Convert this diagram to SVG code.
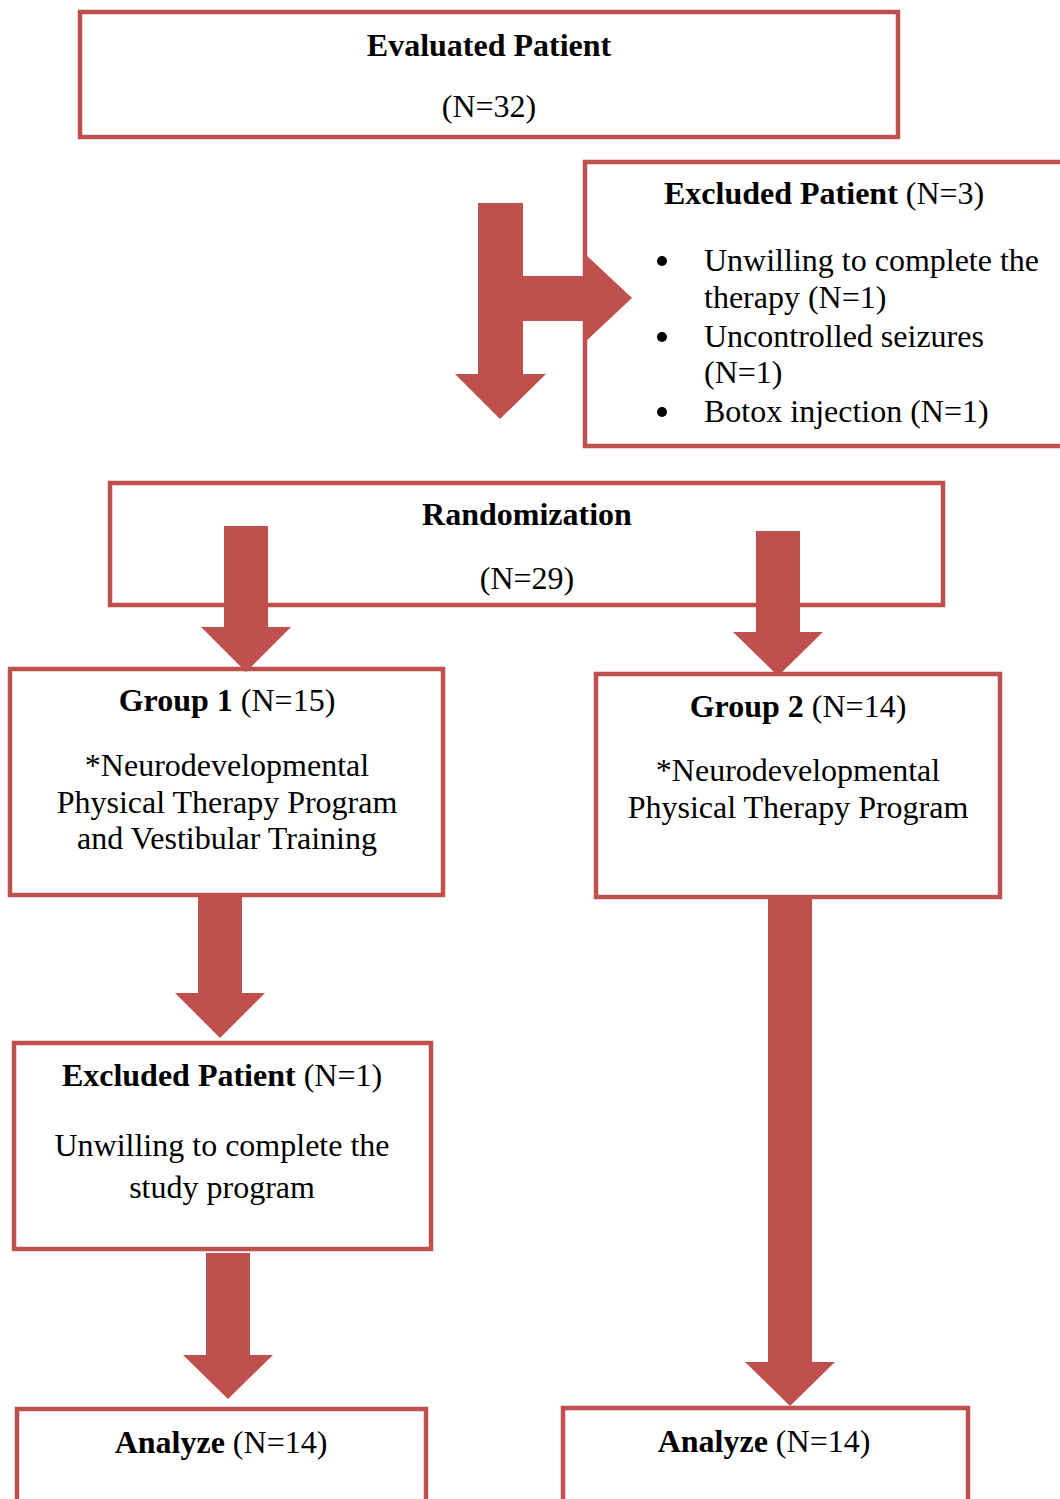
<svg xmlns="http://www.w3.org/2000/svg" width="1060" height="1499" viewBox="0 0 1060 1499">
<style>
.box{fill:#fff;stroke:#C0504D;stroke-width:4.5}
.arr{fill:#C0504D}
text{font-family:"Liberation Serif","Times New Roman",serif;font-size:32px;fill:#000}
.c{text-anchor:middle}
.b{font-weight:bold}
</style>
<rect width="1060" height="1499" fill="#fff"/>
<g id="evaluated">
<rect class="box" x="80" y="12" width="818" height="125"/>
<text class="c b" x="489" y="56">Evaluated Patient</text>
<text class="c" x="489" y="117">(N=32)</text>
</g>
<g id="excluded1">
<rect class="box" x="585" y="162" width="480" height="284"/>
<text x="664" y="204"><tspan class="b">Excluded Patient</tspan> (N=3)</text>
<circle cx="662" cy="261" r="5"/>
<circle cx="662" cy="337" r="5"/>
<circle cx="662" cy="412" r="5"/>
<text x="704" y="271">Unwilling to complete the</text>
<text x="704" y="308">therapy (N=1)</text>
<text x="704" y="347">Uncontrolled seizures</text>
<text x="704" y="383">(N=1)</text>
<text x="704" y="422">Botox injection (N=1)</text>
</g>
<g id="randomization">
<rect class="box" x="110" y="483" width="833" height="122"/>
<text class="c b" x="527" y="525">Randomization</text>
<text class="c" x="527" y="589">(N=29)</text>
</g>
<g id="group1">
<rect class="box" x="10" y="669" width="433" height="226"/>
<text class="c" x="227" y="711"><tspan class="b">Group 1</tspan> (N=15)</text>
<text class="c" x="227" y="776">*Neurodevelopmental</text>
<text class="c" x="227" y="813">Physical Therapy Program</text>
<text class="c" x="227" y="849">and Vestibular Training</text>
</g>
<g id="group2">
<rect class="box" x="596" y="674" width="404" height="223"/>
<text class="c" x="798" y="717"><tspan class="b">Group 2</tspan> (N=14)</text>
<text class="c" x="798" y="781">*Neurodevelopmental</text>
<text class="c" x="798" y="818">Physical Therapy Program</text>
</g>
<g id="excluded2">
<rect class="box" x="14" y="1043" width="417" height="206"/>
<text class="c" x="222" y="1086"><tspan class="b">Excluded Patient</tspan> (N=1)</text>
<text class="c" x="222" y="1156">Unwilling to complete the</text>
<text class="c" x="222" y="1198">study program</text>
</g>
<g id="analyze1">
<rect class="box" x="17" y="1409" width="409" height="110"/>
<text class="c" x="221" y="1453"><tspan class="b">Analyze</tspan> (N=14)</text>
</g>
<g id="analyze2">
<rect class="box" x="563" y="1408" width="405" height="110"/>
<text class="c" x="764" y="1452"><tspan class="b">Analyze</tspan> (N=14)</text>
</g>
<g id="connectors">
<polygon class="arr" points="478,203 523,203 523,276 584,276 584,253 632,298 584,343 584,321 523,321 523,374 546,374 500,419 455,374 478,374"/>
<polygon class="arr" points="224,526 268,526 268,627 291,627 246,672 201,627 224,627"/>
<polygon class="arr" points="756,531 800,531 800,632 823,632 778,676 733,632 756,632"/>
<polygon class="arr" points="198,895 242,895 242,993 265,993 220,1038 175,993 198,993"/>
<polygon class="arr" points="206,1253 250,1253 250,1355 273,1355 228,1399 183,1355 206,1355"/>
<polygon class="arr" points="768,897 812,897 812,1362 835,1362 790,1406 745,1362 768,1362"/>
</g>
</svg>
